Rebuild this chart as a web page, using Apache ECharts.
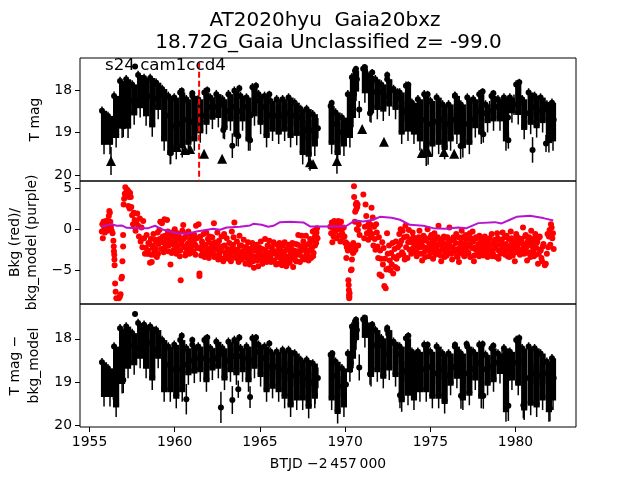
<!DOCTYPE html>
<html><head><meta charset="utf-8">
<script src="https://cdn.jsdelivr.net/npm/echarts@6/dist/echarts.min.js"></script>
<style>html,body{margin:0;padding:0;background:#fff}#c{width:640px;height:480px}</style>
</head><body><div id="c"></div>
<script>
const xTicks=[1955,1960,1965,1970,1975,1980];
const magTicks=[18,19,20];
const bkgTicks=[5,0,-5];
const labelText='s24 cam1ccd4';
const titleLine1='AT2020hyu  Gaia20bxz';
const titleLine2='18.72G_Gaia Unclassified z= -99.0';
const xName='BTJD \u22122\u2009457\u2009000';

// observation times; each row is a bright, a faint and a middling sample
const times=[
1955.73,1955.85,1955.97, 1956.08,1956.20,1956.32, 1956.44,1956.56,1956.67, 1956.79,1956.91,1957.03,
1957.15,1957.26,1957.38, 1957.50,1957.62,1957.73, 1957.85,1957.97,1958.09, 1958.20,1958.32,1958.44,
1958.56,1958.68,1958.79, 1958.91,1959.03,1959.15, 1959.26,1959.38,1959.50, 1959.62,1959.74,1959.85,
1959.97,1960.09,1960.21, 1960.32,1960.44,1960.56, 1960.68,1960.80,1960.91, 1961.03,1961.15,1961.27,
1961.38,1961.50,1961.62, 1961.74,1961.86,1961.97, 1962.09,1962.21,1962.33, 1962.44,1962.56,1962.68,
1962.80,1962.92,1963.03, 1963.15,1963.27,1963.39, 1963.50,1963.62,1963.74, 1963.86,1963.98,1964.09,
1964.21,1964.33,1964.45, 1964.56,1964.68,1964.80, 1964.92,1965.04,1965.15, 1965.27,1965.39,1965.51,
1965.62,1965.74,1965.86, 1965.98,1966.10,1966.21, 1966.33,1966.45,1966.57, 1966.68,1966.80,1966.92,
1967.04,1967.16,1967.27, 1967.39,1967.51,1967.63, 1967.74,1967.86,1967.98, 1968.10,1968.22,1968.40,
1969.15,1969.21,1969.30, 1969.44,1969.56,1969.68, 1969.81,1969.93,1970.05, 1970.16,1970.28,1970.34,
1970.40,1970.46,1970.52, 1970.58,1970.64,1970.69, 1971.06,1971.16,1971.26, 1971.40,1971.52,1971.64,
1971.77,1971.89,1972.01, 1972.12,1972.24,1972.36, 1972.47,1972.59,1972.71, 1972.84,1972.96,1973.08,
1973.20,1973.32,1973.44, 1973.57,1973.69,1973.81, 1973.92,1974.04,1974.16, 1974.27,1974.39,1974.51,
1974.64,1974.76,1974.88, 1975.00,1975.12,1975.24, 1975.37,1975.49,1975.61, 1975.72,1975.84,1975.96,
1976.07,1976.19,1976.31, 1976.44,1976.56,1976.68, 1976.79,1976.91,1977.03, 1977.17,1977.29,1977.41,
1977.52,1977.64,1977.76, 1977.87,1977.99,1978.11, 1978.24,1978.36,1978.48, 1978.59,1978.71,1978.83,
1978.97,1979.09,1979.21, 1979.32,1979.44,1979.56, 1979.67,1979.79,1979.91, 1980.04,1980.16,1980.28,
1980.39,1980.51,1980.63, 1980.77,1980.89,1981.01, 1981.12,1981.24,1981.36, 1981.47,1981.59,1981.71,
1981.84,1981.96,1982.08, 1982.14,1982.20,1982.24];

const tmag=[
18.49,19.21,18.85, 18.61,19.21,19.00, 18.14,19.05,18.60, 17.79,18.83,18.30,
17.75,18.83,18.25, 17.87,18.52,18.25, 17.65,18.35,18.00, 17.72,18.54,18.15,
17.72,18.80,18.20, 17.83,18.39,18.10, 17.98,19.13,18.60, 18.14,19.45,18.85,
18.18,19.33,18.80, 18.06,19.29,18.70, 18.22,19.21,18.75, 18.14,19.13,18.70,
18.22,18.94,18.60, 18.06,18.74,18.40, 18.18,18.62,18.40, 18.10,18.58,18.35,
18.22,18.86,18.50, 18.10,18.66,18.40, 18.02,19.02,18.50, 18.14,18.66,18.40,
18.18,19.13,18.60, 17.94,18.54,18.25, 18.10,18.74,18.40, 18.14,19.05,18.60,
18.26,18.90,18.60, 18.22,18.97,18.60, 18.22,18.90,18.55, 18.18,19.05,18.60,
18.30,19.00,18.65, 18.45,19.45,18.95, 18.45,19.49,18.95, 18.57,19.25,18.90,
18.38,19.21,18.80, 18.53,19.45,19.00, 18.65,19.25,18.95, 18.10,19.05,18.50,
17.70,18.58,18.10, 17.55,17.96,17.75, 17.50,18.00,17.75, 17.67,18.47,18.05,
17.75,18.39,18.05, 17.87,18.43,18.15, 17.75,18.31,18.00, 17.98,18.39,18.20,
18.06,18.97,18.50, 17.90,18.90,18.45, 18.30,18.97,18.65, 18.22,19.13,18.70,
18.10,19.49,18.80, 18.26,19.25,18.75, 18.18,19.21,18.70, 18.34,19.33,18.80,
18.34,19.13,18.70, 18.14,18.97,18.55, 18.34,19.29,18.80, 18.18,19.21,18.70,
18.22,18.82,18.50, 18.10,18.97,18.55, 18.34,18.70,18.50, 18.14,18.66,18.40,
18.22,18.66,18.45, 18.18,19.13,18.65, 18.18,18.47,18.35, 17.87,18.51,18.20,
18.22,18.86,18.55, 18.06,18.74,18.40, 18.14,18.82,18.50, 18.18,18.70,18.45,
18.34,19.17,18.75, 18.30,19.13,18.70];

const detrended=[
18.54,19.26,18.90, 18.68,19.26,19.00, 18.18,19.50,18.80, 17.76,18.96,18.35,
17.72,18.61,18.15, 17.87,18.53,18.20, 17.64,18.38,18.00, 17.68,18.61,18.10,
17.72,18.88,18.25, 17.80,18.38,18.05, 18.03,19.15,18.60, 18.18,19.15,18.70,
18.14,19.30,18.70, 18.03,19.15,18.60, 18.22,18.76,18.50, 18.14,18.72,18.45,
18.18,18.69,18.45, 18.03,18.92,18.50, 18.22,18.65,18.45, 18.07,18.61,18.35,
18.22,18.88,18.50, 18.07,18.69,18.40, 18.03,18.76,18.40, 18.22,18.69,18.45,
18.18,18.92,18.50, 17.99,18.61,18.30, 18.14,18.80,18.45, 18.18,19.15,18.65,
18.30,19.07,18.65, 18.30,19.15,18.70, 18.26,19.30,18.75, 18.26,19.50,18.85,
18.34,19.34,18.80, 18.49,19.34,18.90, 18.49,19.53,19.00, 18.57,19.30,18.90,
18.37,19.34,18.85, 18.53,19.65,19.10, 18.68,19.50,19.05, 18.34,18.69,18.55,
17.72,18.38,18.05, 17.60,17.95,17.80, 17.55,17.90,17.70, 17.72,18.80,18.15,
17.80,18.69,18.15, 17.99,18.84,18.35, 17.80,18.65,18.10, 18.07,18.80,18.35,
18.18,19.38,18.75, 17.99,19.23,18.60, 18.30,19.34,18.80, 18.30,19.15,18.70,
18.14,19.15,18.65, 18.30,19.30,18.80, 18.18,19.30,18.70, 18.34,19.42,18.85,
18.34,19.00,18.65, 18.18,18.84,18.50, 18.34,19.34,18.80, 18.18,19.23,18.70,
18.30,18.88,18.55, 18.14,19.30,18.70, 18.37,19.00,18.65, 18.22,18.92,18.55,
18.34,18.73,18.50, 18.22,19.61,18.90, 18.30,18.88,18.55, 18.03,19.00,18.50,
18.22,19.57,18.90, 18.18,19.46,18.80, 18.22,19.50,18.85, 18.34,19.34,18.80,
18.53,19.61,19.00, 18.45,19.34,18.90];

// error half-length for the bright, faint and middling sample of a row
const rowErrors=[0.10,0.30,0.24];

const tmagExtraT=[1957.67,1960.41,1961.03,1961.91,1963.79,1964.77,1965.55,1963.38,1963.73,1964.42,1962.85,1959.76,1956.98,1970.64,1971.16,1971.59,1972.47,1973.71,1974.84,1976.45,1980.22,1969.21,1978.70,1978.07,1970.83,1981.00,1976.78,1978.11,1979.58,1981.79,1971.46];
const tmagExtraM=[17.45,18.02,18.08,18.00,17.96,17.90,18.10,19.31,19.08,19.18,18.94,19.49,18.86,17.51,17.47,17.59,17.65,17.88,18.10,18.13,17.82,18.31,18.08,18.04,18.46,19.41,19.32,19.04,19.18,19.26,18.55];
const tmagExtraE=[0.06,0.08,0.08,0.08,0.08,0.08,0.08,0.29,0.25,0.25,0.20,0.25,0.25,0.08,0.08,0.08,0.08,0.08,0.08,0.08,0.08,0.08,0.08,0.08,0.20,0.30,0.30,0.20,0.20,0.20,0.20];

const limitT=[1956.26,1960.13,1960.60,1960.90,1961.72,1962.78,1967.94,1968.12,1969.52,1971.00,1972.28,1974.50,1974.87,1975.80,1976.40];
const limitM=[19.67,19.34,19.41,19.39,19.50,19.62,19.70,19.74,19.67,18.92,19.22,19.48,19.46,19.46,19.50];
const limitE=[0.33,0,0,0,0,0,0.20,0,0.30,0,0,0,0.30,0,0];

const detExtraT=[1957.67,1960.41,1961.03,1961.91,1963.79,1964.77,1965.55,1969.25,1962.71,1963.38,1963.73,1964.42,1960.68,1956.98,1956.40,1968.23,1970.64,1971.16,1971.59,1972.47,1972.53,1973.71,1974.84,1976.45,1980.22,1978.70,1978.07,1977.13,1970.83,1971.46,1976.80,1978.11,1979.58,1973.22,1980.46,1982.02];
const detExtraM=[17.43,17.93,18.03,17.97,17.97,17.97,18.11,18.34,19.58,19.41,19.16,19.34,19.39,18.95,19.20,19.30,17.56,17.52,17.67,17.75,17.89,17.93,18.14,18.14,17.98,18.16,18.12,18.12,18.66,18.81,19.31,19.31,19.54,19.30,19.53,19.60];
const detExtraE=[0.06,0.08,0.08,0.08,0.08,0.08,0.08,0.08,0.36,0.32,0.20,0.25,0.35,0.30,0.20,0.20,0.08,0.08,0.08,0.08,0.08,0.08,0.08,0.08,0.08,0.08,0.08,0.08,0.30,0.25,0.30,0.30,0.35,0.30,0.30,0.30];

const redT=[
1955.72,1955.75,1955.78,1955.82,1955.86,1955.90,1955.95,1956.00,1956.04,1956.09,
1956.13,1956.16,1956.19,1956.22,1956.26,1956.30,1956.35,1956.40,1956.42,1956.43,
1956.45,1956.46,1956.47,1956.50,1956.53,1956.57,1956.72,1956.78,1956.82,1956.87,
1956.90,1956.93,1956.97,1956.97,1957.00,1957.03,1957.07,1957.10,1957.16,1957.22,
1957.28,1957.31,1957.38,1957.42,1957.28,1957.35,1957.45,1957.50,1957.55,1957.60,
1957.65,1957.70,1957.75,1957.80,1957.85,1957.90,1957.95,1958.00,1958.05,1958.10,
1958.15,1958.20,1958.25,1958.30,1958.35,1958.40,1958.45,1958.50,1958.55,1958.60,
1958.65,1958.70,1958.75,1958.80,1958.85,1958.90,1958.95,1959.00,1959.05,1959.10,
1959.15,1959.20,1959.25,1959.30,1959.35,1959.40,1959.45,1959.50,1959.55,1959.60,
1959.65,1959.70,1959.75,1959.80,1959.85,1959.90,1959.95,1960.00,1960.05,1960.10,
1960.15,1960.20,1960.25,1960.30,1960.35,1960.40,1960.45,1960.50,1960.55,1960.60,
1960.65,1960.70,1960.75,1960.80,1960.85,1960.90,1960.95,1961.00,1961.05,1961.10,
1961.15,1961.20,1961.25,1961.30,1961.35,1961.40,1961.45,1961.45,1961.50,1961.55,
1961.60,1961.65,1961.70,1961.75,1961.80,1961.85,1961.90,1961.95,1962.00,1962.05,
1962.10,1962.15,1962.20,1962.25,1962.30,1962.35,1962.40,1962.45,1962.50,1962.55,
1962.60,1962.65,1962.70,1962.75,1962.80,1962.85,1962.90,1962.95,1963.00,1963.05,
1963.10,1963.15,1963.20,1963.25,1963.30,1963.35,1963.40,1963.45,1963.50,1963.55,
1963.60,1963.65,1963.70,1963.75,1963.80,1963.85,1963.90,1963.95,1964.00,1964.05,
1964.10,1964.15,1964.20,1964.25,1964.30,1964.35,1964.40,1964.45,1964.50,1964.55,
1964.60,1964.65,1964.70,1964.75,1964.80,1964.85,1964.90,1964.95,1965.00,1965.05,
1965.10,1965.15,1965.20,1965.25,1965.30,1965.35,1965.40,1965.45,1965.50,1965.55,
1965.60,1965.65,1965.70,1965.75,1965.80,1965.85,1965.90,1965.95,1966.00,1966.05,
1966.10,1966.15,1966.20,1966.25,1966.30,1966.35,1966.40,1966.45,1966.50,1966.55,
1966.60,1966.65,1966.70,1966.75,1966.80,1966.85,1966.90,1966.95,1967.00,1967.05,
1967.10,1967.15,1967.20,1967.25,1967.30,1967.35,1967.40,1967.45,1967.50,1967.55,
1967.60,1967.65,1967.70,1967.75,1967.80,1967.85,1967.90,1967.95,1968.00,1968.05,
1968.10,1968.15,1968.17,1968.20,1968.23,1968.25,1968.28,1968.30,1968.33,1968.35,
1969.13,1969.18,1969.22,1969.25,1969.28,1969.32,1969.36,1969.40,1969.44,1969.48,
1969.52,1969.56,1969.60,1969.64,1969.68,1969.72,1969.76,1969.80,1969.84,1969.88,
1969.92,1969.96,1970.00,1970.04,1970.07,1970.10,1970.13,1970.16,1970.19,1970.21,
1970.22,1970.23,1970.24,1970.25,1970.26,1970.27,1970.34,1970.38,1970.40,1970.42,
1970.44,1970.46,1970.48,1970.50,1970.52,1970.53,1970.55,1970.57,1970.59,1970.61,
1970.63,1970.65,1970.67,1970.69,1970.71,1970.73,1970.75,1970.77,1970.80,1970.85,
1971.07,1971.12,1971.16,1971.20,1971.24,1971.28,1971.32,1971.36,1971.40,1971.44,
1971.48,1971.52,1971.55,1971.58,1971.62,1971.66,1971.70,1971.74,1971.78,1971.82,
1971.86,1971.90,1971.94,1971.98,1972.02,1972.06,1972.10,1972.14,1972.18,1972.22,
1972.26,1972.30,1972.34,1972.38,1972.42,1972.46,1972.50,1972.54,1972.58,1972.62,
1972.66,1972.70,1972.74,1972.78,1972.82,1972.86,1972.90,1972.94,1972.98,1973.02,
1973.06,1973.10,1973.14,1973.18,1973.22,1973.26,1973.30,1973.34,1973.38,1973.42,
1973.46,1973.50,1973.54,1973.58,1973.62,1973.66,1973.70,1973.74,1973.78,1973.82,
1973.88,1973.96,1974.04,1974.12,1974.20,1974.28,1974.36,1974.44,1974.52,1974.60,
1974.68,1974.76,1974.84,1974.92,1975.00,1975.08,1975.16,1975.24,1975.32,1975.40,
1975.48,1975.56,1975.64,1975.72,1975.80,1975.88,1975.96,1976.04,1976.12,1976.20,
1976.28,1976.36,1976.44,1976.52,1976.60,1976.68,1976.76,1976.84,1976.92,1977.00,
1977.08,1977.16,1977.24,1977.32,1977.40,1977.48,1977.56,1977.64,1977.72,1977.80,
1977.88,1977.96,1978.04,1978.12,1978.20,1978.28,1978.36,1978.44,1978.52,1978.60,
1978.68,1978.76,1978.84,1978.92,1979.00,1979.08,1979.16,1979.24,1979.32,1979.40,
1979.48,1979.56,1979.64,1979.72,1979.80,1979.88,1979.96,1980.04,1980.12,1980.20,
1980.28,1980.36,1980.44,1980.52,1980.60,1980.68,1980.76,1980.84,1980.92,1981.00,
1981.08,1981.16,1981.24,1981.32,1981.40,1981.48,1981.56,1981.64,1981.72,1981.78,
1981.84,1981.88,1981.92,1981.96,1982.00,1982.04,1982.08,1982.12,1982.16,1982.20,
1982.24];
const redV=[
-0.3,0.6,-1.1,0.9,0.2,-0.4,1.0,0.4,-0.2,1.0,
1.6,2.2,2.0,0.9,0.3,-0.2,-0.5,-1.4,-2.1,-2.7,
-3.1,-3.7,-4.4,-6.6,-7.6,-8.4,-8.4,-8.2,-7.9,-6.0,
-5.8,-3.9,-2.1,-0.7,3.0,3.7,4.3,5.1,4.5,4.8,
4.6,3.9,4.4,3.9,2.8,2.5,2.7,1.7,0.6,2.0,
1.1,-0.2,0.9,1.9,0.4,-0.9,1.3,-1.5,0.2,-2.2,
1.0,-1.1,-3.0,-2.3,-0.7,-3.0,-1.7,-3.0,-4.1,-1.2,
-4.0,-2.3,-0.6,-3.1,-1.3,-2.4,-3.4,-0.4,-1.8,-0.1,
0.9,-1.5,0.7,-0.9,-2.8,1.2,-0.8,-1.8,1.1,-0.3,
-2.0,-0.8,-4.3,-1.6,-0.4,-2.6,-0.9,0.0,-1.4,-3.0,
-0.5,-2.0,-0.9,-3.3,-6.2,-1.5,-0.2,0.5,-2.2,-1.0,
-2.9,-0.6,-1.8,-0.3,-3.0,-1.2,-2.2,-0.8,-1.6,-2.7,
-0.7,-1.9,0.4,-1.1,-2.3,0.6,-5.4,-5.7,-0.9,-3.2,
-1.5,-2.8,-0.6,-3.4,-1.9,-0.4,-2.7,-1.2,-3.5,-0.9,
-2.3,-3.0,-1.0,-2.6,0.7,-1.6,-3.2,-2.0,-0.4,-3.7,
-1.4,-2.7,-3.6,-0.9,-2.1,-3.9,-0.6,-2.8,-3.3,-1.1,
-3.0,-3.6,-1.7,-2.6,-3.9,-0.3,-2.2,-1.0,0.8,-2.8,
-3.5,-1.5,-2.5,-4.0,-0.8,-3.1,-2.0,-3.6,-2.7,-1.3,
-3.4,-4.2,-2.2,-3.0,-1.6,-3.7,-4.3,-2.4,-3.2,-1.7,
-3.9,-4.7,-2.6,-3.3,-1.9,-3.6,-4.5,-2.2,-3.0,-1.5,
-3.8,-4.2,-2.5,-3.2,-1.2,-3.5,-4.0,-2.0,-2.9,-1.4,
-3.6,-4.0,-2.2,-3.0,-1.6,-3.8,-2.7,-4.3,-1.9,-3.2,
-4.2,-1.7,-2.6,-3.7,-4.4,-2.0,-3.1,-1.6,-3.9,-4.5,
-2.4,-3.4,-1.9,-4.1,-2.9,-3.6,-1.7,-4.6,-2.6,-3.3,
-1.8,-3.9,-2.7,-0.7,-3.1,-4.0,-2.1,-0.8,-3.4,-1.5,
-3.7,-2.4,-0.8,-3.0,-1.9,-3.8,-2.6,-1.2,-3.5,-2.3,
-0.3,-2.9,-1.4,-0.2,-2.0,-0.8,-0.1,-1.7,-1.0,0.1,
0.3,-0.5,0.8,-1.6,0.1,-0.9,1.0,0.4,-0.3,-1.1,
0.7,0.0,1.0,-0.8,0.4,-1.5,0.9,-0.2,-0.6,-1.0,
0.2,-0.9,-1.7,-1.6,-3.5,-2.2,-1.8,-2.6,-6.2,-6.8,
-7.4,-8.0,-8.4,-8.2,-7.8,-2.0,-5.0,-4.9,-3.7,-2.4,
-2.0,-2.9,-1.7,-2.8,5.2,3.9,-2.2,0.9,2.1,-2.5,
3.0,2.4,3.2,0.0,2.7,3.0,-0.1,-2.0,0.6,-0.7,
4.2,-1.1,0.3,3.0,1.6,-0.5,0.4,-1.3,0.7,-0.2,
-1.0,0.5,2.6,-0.6,1.4,-2.0,0.3,-1.2,-2.5,0.6,
-0.4,-2.1,-3.5,-1.0,-5.5,-2.6,-3.6,-5.7,-1.6,-4.3,
-2.3,-6.9,-3.6,-7.2,-4.9,-0.5,-3.0,-4.8,-2.0,-3.8,
-5.0,-2.9,-4.3,-1.7,-5.4,-3.4,-2.4,-4.6,-1.5,-3.6,
-4.8,-2.2,-3.2,-0.6,-1.9,0.0,-1.4,-2.8,-0.2,-3.1,
-1.0,-3.7,0.4,-2.2,-0.9,-3.5,-1.6,-0.1,-2.5,-1.3,
-3.0,-0.4,-2.2,-1.1,-3.3,-2.0,-0.2,-1.5,-3.8,-0.8,
-2.7,-1.4,0.0,-3.3,-1.0,-2.2,-3.6,-0.5,-1.8,-2.9,
0.4,-1.3,-3.9,-2.0,-0.9,-2.8,-3.2,-1.2,0.2,-2.3,
-3.7,-1.0,-2.6,-0.6,-3.4,-4.0,-1.8,-0.2,-2.5,-3.3,
-0.7,-1.9,-2.9,-0.5,-1.6,-0.3,-3.9,-2.2,-1.1,-3.0,
-0.8,-2.4,-1.4,-3.2,-0.9,-2.1,-3.4,-1.2,-2.6,-0.6,
-3.0,-1.7,-2.3,-0.5,-3.6,-1.4,-2.7,-0.4,-1.9,-3.1,
-0.8,-2.2,-3.4,-0.3,-1.6,-2.5,-3.9,-0.6,-2.0,-1.1,
-3.0,-1.5,0.2,-2.4,-0.7,-3.8,-1.3,-2.8,-0.2,-2.1,
-3.3,-0.6,-1.7,-4.2,-1.0,-2.6,-3.9,-1.8,-4.4,-4.2,
-3.0,-0.6,-2.2,-0.9,-0.1,-1.9,0.6,0.2,-1.1,-0.5,
-2.4];

// further background samples in the dense parts of the band
const redMoreT=[
1958.42,1958.52,1958.62,1958.72,1958.82,1958.92,1959.02,1959.12,1959.22,1959.32,
1959.42,1959.52,1959.62,1959.72,1959.82,1959.92,1960.02,1960.12,1960.22,1960.32,
1960.42,1960.52,1960.62,1960.72,1960.82,1960.92,1961.02,1961.12,1961.22,1961.32,
1961.52,1961.62,1961.72,1961.82,1961.92,1962.02,1962.12,1962.22,1962.32,1962.42,
1962.52,1962.62,1962.72,1962.82,1962.92,1963.02,1963.12,1963.22,1963.32,1963.42,
1963.52,1963.62,1963.72,1963.82,1963.92,1964.02,1964.12,1964.22,1964.32,1964.42,
1964.52,1964.62,1964.72,1964.82,1964.92,1965.02,1965.12,1965.22,1965.32,1965.42,
1965.52,1965.62,1965.72,1965.82,1965.92,1966.02,1966.12,1966.22,1966.32,1966.42,
1966.52,1966.62,1966.72,1966.82,1966.92,1967.02,1967.12,1967.22,1967.32,1967.42,
1967.52,1967.62,1967.72,1967.82,1967.92,1968.02,1968.12,1968.22,1968.32,1968.38,
1973.90,1973.94,1974.00,1974.06,1974.10,1974.16,1974.22,1974.26,1974.32,1974.40,
1974.46,1974.50,1974.56,1974.64,1974.70,1974.74,1974.80,1974.88,1974.94,1975.02,
1975.06,1975.12,1975.20,1975.26,1975.30,1975.36,1975.44,1975.50,1975.54,1975.60,
1975.66,1975.70,1975.76,1975.84,1975.90,1975.94,1976.00,1976.08,1976.14,1976.18,
1976.24,1976.32,1976.38,1976.42,1976.48,1976.56,1976.62,1976.66,1976.72,1976.80,
1976.86,1976.90,1976.96,1977.04,1977.10,1977.14,1977.20,1977.28,1977.34,1977.38,
1977.44,1977.52,1977.58,1977.62,1977.68,1977.76,1977.82,1977.86,1977.92,1978.00,
1978.06,1978.10,1978.16,1978.24,1978.30,1978.34,1978.40,1978.48,1978.54,1978.58,
1978.64,1978.72,1978.78,1978.82,1978.88,1978.96,1979.02,1979.06,1979.12,1979.20,
1979.26,1979.30,1979.36,1979.44,1979.50,1979.54,1979.60,1979.68,1979.74,1979.78,
1979.84,1979.92,1979.98,1980.02,1980.08,1980.16,1980.22,1980.26,1980.32,1980.40,
1980.46,1980.50,1980.56,1980.64,1980.70,1980.74,1980.80,1980.88,1980.94,1980.98,
1981.04,1981.12,1981.18,1981.22,1981.28,1981.36,1981.42,1981.46,1981.52,1981.60];
const redMoreV=[
-2.6,-1.8,-3.1,-2.0,-2.8,-1.5,-3.0,-1.2,-2.4,-1.6,
-2.2,-1.1,-2.7,-1.4,-2.9,-1.9,-2.4,-2.0,-1.3,-2.6,
-1.9,-1.2,-3.2,-2.4,-1.7,-2.9,-2.0,-1.4,-3.1,-2.2,
-2.4,-1.8,-2.9,-2.2,-3.3,-1.6,-2.8,-2.0,-3.4,-2.5,
-1.7,-3.1,-2.3,-3.6,-2.0,-3.0,-2.4,-3.3,-2.8,-1.9,
-3.4,-2.5,-3.2,-2.0,-3.7,-2.9,-2.2,-3.5,-2.7,-3.0,
-2.3,-3.4,-2.1,-3.8,-2.8,-3.3,-2.4,-3.7,-2.6,-3.1,
-2.1,-3.5,-2.6,-3.9,-2.9,-3.4,-2.3,-3.2,-3.8,-2.7,
-3.3,-2.5,-3.6,-2.2,-3.1,-2.8,-3.9,-1.9,-3.0,-2.6,
-3.5,-1.9,-2.8,-3.2,-1.7,-2.6,-3.3,-1.0,-0.4,-1.1,
-1.6,-2.4,-1.0,-2.8,-1.7,-2.6,-1.3,-2.9,-1.0,-2.2,
-3.0,-1.5,-2.1,-1.0,-3.4,-2.3,-1.2,-2.5,-1.8,-2.9,
-0.7,-1.6,-2.6,-1.2,-3.1,-2.2,-1.0,-2.7,-1.9,-3.2,
-1.5,-2.5,-1.1,-3.4,-1.8,-2.4,-1.0,-2.9,-2.0,-1.4,
-3.0,-2.2,-1.3,-2.7,-1.7,-3.3,-2.4,-1.0,-2.9,-1.6,
-2.1,-1.0,-3.1,-1.7,-2.5,-1.2,-2.9,-2.0,-3.4,-1.1,
-2.3,-1.5,-3.2,-2.4,-1.0,-2.7,-1.8,-3.3,-2.1,-1.4,
-2.8,-1.9,-1.0,-2.5,-3.1,-1.6,-2.2,-1.1,-2.9,-1.8,
-3.3,-2.4,-1.3,-2.0,-3.4,-1.1,-2.6,-1.9,-3.0,-1.3,
-2.2,-2.9,-1.0,-1.8,-2.5,-3.3,-1.2,-2.7,-2.0,-1.1,
-3.2,-2.1,-1.5,-2.8,-0.9,-2.4,-1.7,-3.1,-1.2,-2.5,
-1.9,-3.0,-0.9,-2.2,-1.6,-2.9,-1.0,-3.4,-2.0,-1.4,
-2.7,-1.1,-3.1,-2.3,-1.5,-3.0,-0.9,-2.5,-3.5,-2.1];

const modelT=[1955.71,1956.30,1956.59,1956.89,1957.18,1957.96,1958.45,1958.84,1959.33,1960.11,1960.70,1961.29,1962.26,1962.66,1963.05,1963.83,1964.42,1964.61,1965.10,1965.49,1965.79,1966.18,1966.76,1967.55,1967.94,1968.52,1969.70,1970.09,1970.58,1971.07,1971.65,1972.04,1972.73,1973.22,1973.80,1974.59,1975.17,1975.86,1976.64,1977.13,1977.82,1978.79,1979.18,1979.67,1980.06,1980.85,1981.63,1982.22];
const modelV=[0.33,0.61,0.41,0.45,0.16,0.12,0.12,0.41,-0.08,-0.49,-0.57,-0.28,0.04,-0.08,0.20,0.29,0.45,0.65,0.53,0.29,0.41,0.85,0.89,0.81,0.33,0.33,0.33,0.41,1.06,0.94,1.14,1.50,1.38,1.14,0.53,0.41,0.12,0.04,0.20,0.12,0.73,0.85,0.69,1.14,1.50,1.63,1.34,1.06];

const markerT=[1961.43,1961.43];
const markerM=[17.36,20.14];

function bars(ts,ms,errs){
  return ts.map((t,i)=>[t,ms[i],errs[i]]);
}
function rowed(ts,ms){
  return ts.map((t,i)=>[t,ms[i],rowErrors[i%3]]);
}
// the range each row of samples spans, bright sample to just past the faint sample
function spans(ts,ms){
  const out=[];
  for(let i=0;i+2<ts.length;i+=3){
    const lo=ms[i+1]+0.08;
    out.push([ts[i+1],(ms[i]+lo)/2,(lo-ms[i])/2]);
  }
  return out;
}
function errorSeries(data,idx,width){
  return {type:'custom',xAxisIndex:idx,yAxisIndex:idx,data:data,z:2,silent:true,
    encode:{x:0,y:1},
    renderItem:(p,api)=>{
      const e=api.value(2);
      const a=api.coord([api.value(0),api.value(1)-e]);
      const b=api.coord([api.value(0),api.value(1)+e]);
      return {type:'line',shape:{x1:a[0],y1:a[1],x2:b[0],y2:b[1]},style:{stroke:'#000',lineWidth:width||1.5}};
    }};
}
function dotSeries(data,idx,symbol,size){
  return {type:'scatter',xAxisIndex:idx,yAxisIndex:idx,data:data.map(d=>[d[0],d[1]]),symbol:symbol,symbolSize:size,
    itemStyle:{color:'#000',opacity:1},z:3,silent:true};
}
const font='DejaVu Sans';
const axisText={color:'#000',fontFamily:font,fontSize:13.9};
function xAxis(idx,bottom){
  return {type:'value',gridIndex:idx,min:1954.44,max:1983.55,splitLine:{show:false},axisLine:{show:false},
    axisTick:{show:bottom,length:5,lineStyle:{color:'#000',width:1},customValues:xTicks},
    axisLabel:{show:bottom,...axisText,margin:8,customValues:xTicks,formatter:v=>String(v)},
    name:bottom?xName:'',nameLocation:'middle',nameGap:30,nameTextStyle:{...axisText}};
}
function yAxis(idx,lo,hi,ticks,inverse,name,gap,lh){
  return {type:'value',gridIndex:idx,min:lo,max:hi,inverse:inverse,splitLine:{show:false},axisLine:{show:false},
    axisTick:{show:true,length:5,lineStyle:{color:'#000',width:1},customValues:ticks},
    axisLabel:{...axisText,margin:8,customValues:ticks,formatter:v=>String(v).replace('-','\u2212')},
    name:name,nameLocation:'middle',nameGap:gap,nameRotate:90,nameTextStyle:{...axisText,lineHeight:lh}};
}
const tmagRows=rowed(times,tmag);
const detRows=rowed(times,detrended);
const tmagExtra=bars(tmagExtraT,tmagExtraM,tmagExtraE);
const limits=bars(limitT,limitM,limitE);
const detExtra=bars(detExtraT,detExtraM,detExtraE);
const gridBase={left:80,width:496,show:true,borderColor:'#000',borderWidth:1,backgroundColor:'transparent',outerBoundsMode:'none',containLabel:false};
const option={
  animation:false,backgroundColor:'#fff',
  title:[
    {text:titleLine1,left:320,top:6,textAlign:'center',textStyle:{fontFamily:font,fontSize:20,fontWeight:'normal',color:'#000'}},
    {text:titleLine2,left:323.5,top:28,textAlign:'center',textStyle:{fontFamily:font,fontSize:20,fontWeight:'normal',color:'#000'}},
    {text:labelText,left:100,top:52,textStyle:{fontFamily:font,fontSize:16.67,fontWeight:'normal',color:'#000'}}
  ],
  grid:[{...gridBase,top:58,height:123},{...gridBase,top:181,height:123},{...gridBase,top:304,height:123}],
  xAxis:[xAxis(0,false),xAxis(1,false),xAxis(2,true)],
  yAxis:[
    yAxis(0,17.25,20.14,magTicks,true,'T mag',23,17),
    yAxis(1,-9.1,5.85,bkgTicks,false,'Bkg (red)/\nbkg_model (purple)',31,17),
    yAxis(2,17.2,20.03,magTicks,true,'T mag \u2212\nbkg_model',31,19)
  ],
  series:[
    errorSeries(spans(times,tmag),0,6.2),
    errorSeries(tmagRows,0),errorSeries(tmagExtra,0),errorSeries(limits,0),
    dotSeries(tmagRows,0,'circle',6),dotSeries(tmagExtra,0,'circle',6),dotSeries(limits,0,'triangle',10),
    {type:'line',xAxisIndex:0,yAxisIndex:0,data:markerT.map((t,i)=>[t,markerM[i]]),showSymbol:false,z:4,silent:true,
      lineStyle:{color:'#ff0000',width:2,type:[6,3]}},
    {type:'scatter',xAxisIndex:1,yAxisIndex:1,data:redT.map((t,i)=>[t,redV[i]]).concat(redMoreT.map((t,i)=>[t,redMoreV[i]])),symbol:'circle',symbolSize:6,
      itemStyle:{color:'#ff0000',opacity:1},z:3,silent:true},
    {type:'line',xAxisIndex:1,yAxisIndex:1,data:modelT.map((t,i)=>[t,modelV[i]]),showSymbol:false,z:4,silent:true,
      lineStyle:{color:'#b814d0',width:2}},
    errorSeries(spans(times,detrended),2,6.2),
    errorSeries(detRows,2),errorSeries(detExtra,2),
    dotSeries(detRows,2,'circle',6),dotSeries(detExtra,2,'circle',6)
  ]
};
echarts.init(document.getElementById('c'),null,{renderer:'canvas'}).setOption(option);
</script></body></html>
